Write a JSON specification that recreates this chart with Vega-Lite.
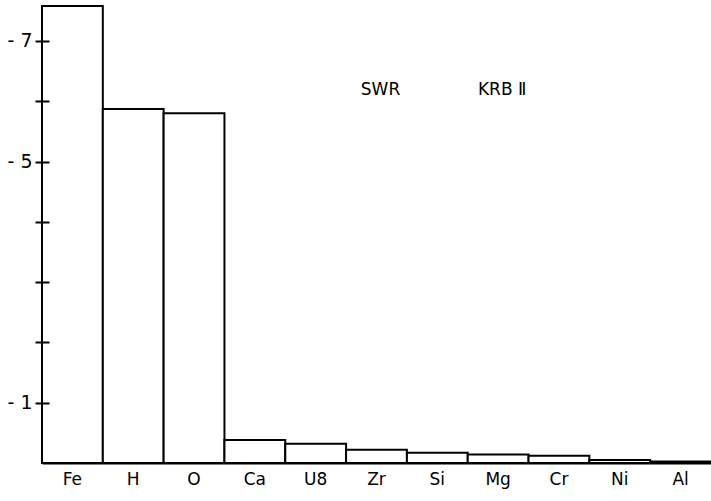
{
  "$schema": "https://vega.github.io/schema/vega-lite/v6.json",
  "width": 669,
  "height": 463,
  "autosize": {"type": "none"},
  "padding": {"left": 42, "top": 0, "right": 0, "bottom": 38},
  "background": "white",
  "config": {"view": {"stroke": null}, "font": "DejaVu Sans"},
  "datasets": {
    "bars": [
      {"element": "Fe", "value": 7.58},
      {"element": "H", "value": 5.87},
      {"element": "O", "value": 5.8},
      {"element": "Ca", "value": 0.38},
      {"element": "U8", "value": 0.32},
      {"element": "Zr", "value": 0.22},
      {"element": "Si", "value": 0.17},
      {"element": "Mg", "value": 0.14},
      {"element": "Cr", "value": 0.12},
      {"element": "Ni", "value": 0.05},
      {"element": "Al", "value": 0.025}
    ],
    "notes": [
      {"element": "Zr", "value": 6.19, "label": "SWR"},
      {"element": "Mg", "value": 6.19, "label": "KRB  Ⅱ"}
    ]
  },
  "layer": [
    {
      "data": {"name": "bars"},
      "mark": {"type": "bar", "fill": "white", "stroke": "black", "strokeWidth": 2},
      "encoding": {
        "x": {
          "field": "element", "type": "nominal",
          "sort": ["Fe", "H", "O", "Ca", "U8", "Zr", "Si", "Mg", "Cr", "Ni", "Al"],
          "scale": {"paddingInner": 0, "paddingOuter": 0},
          "axis": {
            "title": null, "labelAngle": 0, "ticks": false, "domain": true,
            "domainColor": "black", "domainWidth": 2, "labelFontSize": 17,
            "labelColor": "black", "labelPadding": 8, "labelFont": "DejaVu Sans"
          }
        },
        "y": {
          "field": "value", "type": "quantitative",
          "scale": {"domain": [0, 7.68], "nice": false, "zero": true},
          "axis": {
            "title": null, "values": [1, 2, 3, 4, 5, 6, 7], "grid": false,
            "domain": false, "offset": -7, "tickSize": 14, "tickWidth": 2,
            "tickColor": "black", "labelFontSize": 19, "labelColor": "black",
            "labelPadding": 3, "labelFont": "DejaVu Sans", "zindex": 1,
            "labelExpr": "datum.value == 7 || datum.value == 5 || datum.value == 1 ? '- ' + datum.value : ''"
          }
        }
      }
    },
    {
      "data": {"name": "notes"},
      "mark": {"type": "text", "fontSize": 17, "color": "black", "align": "center", "baseline": "middle", "font": "DejaVu Sans", "dx": 4},
      "encoding": {
        "x": {"field": "element", "type": "nominal", "sort": ["Fe", "H", "O", "Ca", "U8", "Zr", "Si", "Mg", "Cr", "Ni", "Al"]},
        "y": {"field": "value", "type": "quantitative"},
        "text": {"field": "label"}
      }
    }
  ]
}
